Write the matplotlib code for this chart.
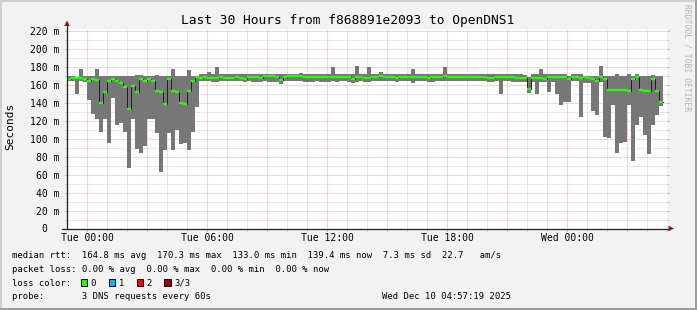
import matplotlib
matplotlib.use("Agg")
import matplotlib.pyplot as plt
from matplotlib.patches import Polygon, Rectangle

W, H = 697, 310

# 12 minute consolidated bins, hours relative to Tue 00:00
BIN_START = -1.0
BIN_STEP = 0.2

rtt_max = [
    170, 170, 169, 178, 170, 170, 170, 178, 170, 170,
    170, 170.5, 170, 170, 170, 170, 170, 171, 171, 170,
    170, 170, 171, 170, 170, 170, 178, 170, 170, 170,
    177, 170, 170,
    172, 172.5, 175, 172, 180.5, 172, 172, 172.5, 172, 173, 172, 173, 172, 172.5, 172, 172,
    172.5,
    173, 173, 173, 172.5, 172.5, 173, 173, 173, 173.5, 173, 172.5, 172.5, 172.5, 172.5,
    172.5, 172.5, 180.5, 172.5, 172.5, 173, 172.5, 172.5, 181, 172.5, 172.5,
    180.5, 172.5, 173, 175, 172.5, 172.5, 172.5, 172, 172.5, 172.5, 172, 178, 172.5, 172,
    172.5, 172, 172, 172.5, 172.5, 180.5, 172.5, 172.5, 172.5, 172.5, 172.5,
    172.5, 172.5, 172, 172.5, 173, 172.5, 172, 172.5, 172.5, 172.5, 172.5, 172, 172, 172,
    171, 169, 172, 172, 178, 172, 172, 172, 172, 172, 172,
    170, 172, 172, 172, 170, 170, 170, 170, 181, 170, 170, 170, 172, 170, 170, 172, 170,
    172, 170, 170, 170, 171, 170, 170,
]
rtt_min = [
    165, 165, 150.5, 165, 164, 144, 128, 122.5, 108, 122.5,
    96, 146, 115, 118, 108, 68, 122, 88.5, 84, 92,
    122.5, 122, 107, 62.6, 88, 107, 88, 110, 94, 96,
    88, 108, 136,
    164.5, 165, 164.5, 163.5, 163.5, 164.5, 164.5, 164.5, 165, 164.5, 164.5, 164, 164.5,
    164, 164, 164, 165,
    164, 164, 164, 161, 164.5, 165, 165, 164.5, 164.5, 164, 164, 164, 164.5, 164, 164,
    164, 164.5, 164, 164.5, 165, 164, 163, 164, 164.5, 164,
    164, 165, 164.5, 164.5, 165, 164.5, 165, 164, 164.5, 164.5, 164.5, 162.5, 165, 165,
    164.5, 164, 164, 165, 165, 165, 165, 165, 165, 165, 165,
    165, 165, 164.5, 165, 164.5, 164, 164, 164.5, 150.3, 164.5, 164.5, 164, 164, 163.5,
    163.5, 151.5, 164, 150.3, 164, 164, 152.5, 164, 150, 137.5, 141.4,
    141, 165, 165, 124.6, 163, 163, 131, 127, 164, 102, 101, 137.7, 84, 96, 97, 137.7,
    75.5, 115, 124, 104, 83, 115, 127, 137,
]
rtt_median = [
    167, 168.5, 167.5, 168, 166.5, 165, 167, 166, 140, 152,
    165, 167, 164.5, 162, 158, 133, 159.5, 152.5, 167, 165,
    166.5, 164.5, 153.5, 152.5, 138.5, 167, 153.5, 152.5, 140, 139,
    153.5, 165, 169,
    168.2, 169.3, 167.9, 167.9, 168.2, 169.3, 167.9, 167.9, 167.9, 169.3, 167.9, 166.7,
    169.3, 169.3, 169.3, 168.2, 170.1,
    170.1, 170.1, 169.3, 165.4, 169.3, 170.1, 170.1, 170.5, 170.1, 169.3, 168.6, 168.6,
    169.3, 169.3, 168.6, 168.6, 169.3, 168.6, 169.3, 169.7, 168.6, 166.4, 169.3, 169.3, 167.5,
    167.5, 169.3, 169.3, 170.1, 168.6, 168.6, 169.3, 167.5, 168.6, 168.6, 168.6, 169.3,
    169.3, 168.6, 168.6, 167.5, 169.3, 169.3, 169.3, 170.1, 169.3, 169.3, 169.3, 169.3, 169.3,
    169.3, 168.6, 169.3, 168.6, 169.3, 168.2, 168.2, 169.3, 168.6, 169.3, 169.3, 168.6,
    168.2, 167.5, 168.2, 155.5, 167.5, 167.9, 167.9, 167.1, 168.6, 169.3, 168.6, 169.3, 168.6,
    167, 169.5, 169.5, 168, 169, 168, 167, 165, 169, 167, 155, 155, 155, 155, 155, 153.7,
    167, 169, 155, 154, 154, 167, 153.7, 141,
]

y_ticks = [0, 20, 40, 60, 80, 100, 120, 140, 160, 180, 200, 220]
y_tick_labels = ["0  ", "20 m", "40 m", "60 m", "80 m", "100 m", "120 m", "140 m",
                 "160 m", "180 m", "200 m", "220 m"]
x_ticks = [0, 6, 12, 18, 24]
x_tick_labels = ["Tue 00:00", "Tue 06:00", "Tue 12:00", "Tue 18:00", "Wed 00:00"]

title = "Last 30 Hours from f868891e2093 to OpenDNS1"
legend_lines = [
    "median rtt:  164.8 ms avg  170.3 ms max  133.0 ms min  139.4 ms now  7.3 ms sd  22.7   am/s",
    "packet loss: 0.00 % avg  0.00 % max  0.00 % min  0.00 % now",
    "loss color:",
    "probe:       3 DNS requests every 60s",
]
loss_labels = ["0", "1", "2", "3/3"]
loss_colors = ["#26ff00", "#00b8ff", "#ff0000", "#a00000"]
timestamp = "Wed Dec 10 04:57:19 2025"

MONO = "DejaVu Sans Mono"
BACK = "#f2f2f2"
SMOKE = "#777777"
GRID = "#d0d0d0"
MGRID = "#f4a6a6"
ARROW = "#801f1f"
AXIS = "#1f1f1f"
LEGEND_SIZE = 6.4


def fx(x):
    return x / W


def fy(y):
    return 1 - y / H


def draw_frame(fig):
    shade_a = "#cfcfcf"
    shade_b = "#9e9e9e"
    strips = [
        ((0, 0), fx(2), 1, shade_a),
        ((0, fy(2)), 1, 2 / H, shade_a),
        ((fx(W - 2), 0), fx(2), 1, shade_b),
        ((0, 0), 1, 2 / H, shade_b),
    ]
    for xy, w, h, col in strips:
        fig.patches.append(Rectangle(xy, w, h, transform=fig.transFigure,
                                     facecolor=col, edgecolor="none", zorder=-1))


def draw_grid(ax):
    dots = (0, (1, 1))
    for h in range(0, 30):
        col = MGRID if h % 3 == 0 else GRID
        ax.axvline(h, color=col, lw=0.72, ls=dots, zorder=0.5)
        ax.plot([h, h], [-2 / 200, 0], transform=ax.get_xaxis_transform(),
                color=col, lw=0.72, clip_on=False, zorder=0.5)
    for v in range(10, 224, 10):
        col = MGRID if v % 20 == 0 else GRID
        ax.axhline(v, color=col, lw=0.72, ls=dots, zorder=0.5)
        ax.plot([-2 / 600, 0], [v, v], transform=ax.get_yaxis_transform(),
                color=col, lw=0.72, clip_on=False, zorder=0.5)
        ax.plot([1, 1 + 2 / 600], [v, v], transform=ax.get_yaxis_transform(),
                color=col, lw=0.72, clip_on=False, zorder=0.5)


def draw_smoke(ax):
    n = len(rtt_median)
    starts = [BIN_START + BIN_STEP * i for i in range(n)]
    ends = [s + BIN_STEP for s in starts]
    xs = starts + [ends[-1]]
    ax.fill_between(xs, rtt_min + [rtt_min[-1]], rtt_max + [rtt_max[-1]],
                    step="post", color=SMOKE, lw=0, zorder=2)
    ax.step(xs, rtt_median + [rtt_median[-1]], where="post",
            color="#202020", lw=0.72, zorder=3)
    ax.hlines(rtt_median, starts, ends, color=loss_colors[0], lw=1.7, zorder=4)


def draw_axes(fig, ax):
    ax.plot([0, 0], [0, 1.03], transform=ax.transAxes, color=AXIS, lw=0.9,
            clip_on=False, zorder=5)
    ax.plot([-5 / 600, 1.003], [0, 0], transform=ax.transAxes, color=AXIS, lw=0.9,
            clip_on=False, zorder=5)
    fig.patches.append(Polygon([(fx(64.2), fy(26)), (fx(69.8), fy(26)), (fx(67), fy(20.5))],
                               closed=True, transform=fig.transFigure,
                               facecolor=ARROW, edgecolor="none", zorder=6))
    fig.patches.append(Polygon([(fx(668.5), fy(225.7)), (fx(668.5), fy(231.3)), (fx(674), fy(228.5))],
                               closed=True, transform=fig.transFigure,
                               facecolor=ARROW, edgecolor="none", zorder=6))
    for v, lab in zip(y_ticks, y_tick_labels):
        ax.text(-7.5 / 600, v, lab, transform=ax.get_yaxis_transform(), ha="right",
                va="center_baseline", family=MONO, fontsize=7, color="black")
    for h, lab in zip(x_ticks, x_tick_labels):
        ax.text(h, -12.2 / 200, lab, transform=ax.get_xaxis_transform(), ha="center",
                va="baseline", family=MONO, fontsize=7, color="black")


def draw_texts(fig):
    fig.text(fx(347.5), fy(24), title, ha="center", va="baseline", family=MONO,
             fontsize=9.3, color="black")
    fig.text(fx(10), fy(126.5), "Seconds", rotation=90, ha="center", va="center",
             family=MONO, fontsize=8, color="black")
    fig.text(fx(687), fy(58), "RRDTOOL / TOBI OETIKER", rotation=270, ha="center",
             va="center", family=MONO, fontsize=5.8, color="#b4b4b4")
    baselines = [258.2, 271.6, 285.6, 299.3]
    for y, line in zip(baselines, legend_lines):
        fig.text(fx(12), fy(y), line, ha="left", va="baseline", family=MONO,
                 fontsize=LEGEND_SIZE, color="black")
    fig.text(fx(510.5), fy(299.3), timestamp, ha="right", va="baseline", family=MONO,
             fontsize=LEGEND_SIZE, color="black")
    char_w = 5.3
    for i, (lab, col) in enumerate(zip(loss_labels, loss_colors)):
        box_x = 81 + i * 27.8
        fig.patches.append(Rectangle((fx(box_x), fy(285.8)), 6.3 / W, 6.6 / H,
                                     transform=fig.transFigure, facecolor=col,
                                     edgecolor="black", lw=0.7, zorder=5))
        fig.text(fx(box_x + 2 * char_w - 0.8), fy(285.6), lab, ha="left", va="baseline",
                 family=MONO, fontsize=LEGEND_SIZE, color="black")


def plot():
    fig = plt.figure(figsize=(W / 100, H / 100), dpi=100)
    fig.patch.set_facecolor(BACK)
    draw_frame(fig)
    ax = fig.add_axes([fx(67), fy(228.5), 600 / W, 200 / H])
    ax.set_zorder(2)
    ax.set_facecolor("white")
    ax.set_xlim(-1.0, 29.0)
    ax.set_ylim(0, 223.3)
    for s in ax.spines.values():
        s.set_visible(False)
    ax.set_xticks([])
    ax.set_yticks([])
    draw_grid(ax)
    draw_smoke(ax)
    draw_axes(fig, ax)
    draw_texts(fig)
    fig.savefig("out.png", dpi=100, facecolor=BACK)


if __name__ == "__main__":
    plot()
